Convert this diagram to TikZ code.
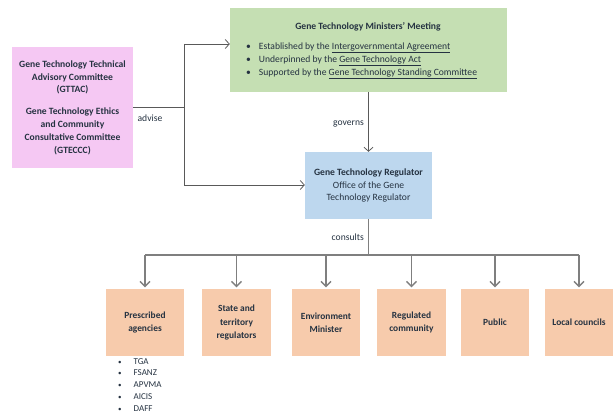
\documentclass[tikz,border=0pt]{standalone}
\usepackage{fontspec}
\setmainfont{Carlito}
\usetikzlibrary{arrows.meta}
\definecolor{txt}{HTML}{253241}
\definecolor{pinkf}{HTML}{F5C8F3}
\definecolor{greenf}{HTML}{C5DFB3}
\definecolor{bluef}{HTML}{BDD7EE}
\definecolor{orangef}{HTML}{F7CBAC}
\definecolor{lineA}{HTML}{595959}
\definecolor{lineB}{HTML}{7F7F7F}
\begin{document}
\begin{tikzpicture}[x=1pt,y=-1pt,
  every node/.style={text=txt, inner sep=0pt, font=\fontsize{9.6}{12.8}\selectfont},
  bodyfont/.style={font=\fontsize{9.6}{12.8}\selectfont},
  boldfont/.style={font=\bfseries\fontsize{9.6}{12.8}\selectfont},
  pinkbox/.style={fill=pinkf, minimum width=121pt, minimum height=121pt, align=center, boldfont},
  greenbox/.style={fill=greenf, minimum width=277pt, minimum height=84pt},
  bluebox/.style={fill=bluef, minimum width=127pt, minimum height=67pt, align=center},
  orbox/.style={fill=orangef, minimum height=67pt, align=center, font=\bfseries\fontsize{9.4}{13.5}\selectfont},
  thinarrow/.style={draw=lineA, line width=0.8pt, -{Straight Barb[length=4pt,width=9pt,line width=0.8pt]}},
  thinline/.style={draw=lineA, line width=0.8pt},
  busline/.style={draw=lineB, line width=1.6pt},
  busarrow/.style={draw=lineB, line width=1.6pt, -{Straight Barb[length=5pt,width=10pt,line width=1.4pt]}},
  lbl/.style={bodyfont}
]
\useasboundingbox (0,0) rectangle (614,414);

% upper boxes
\node[pinkbox] (tac) at (72.5,107.5) {Gene Technology Technical\\Advisory Committee\\(GTTAC)\\[9pt]Gene Technology Ethics\\and Community\\Consultative Committee\\(GTECCC)};
\node[greenbox] (gmm) at (368.5,50) {};
\node[boldfont, anchor=center] (gtitle) at (368,27) {Gene Technology Ministers’ Meeting};
\node[anchor=west, align=left, font=\fontsize{9.6}{13}\selectfont] (glist) at (246,61)
  {\textbullet\hspace{8pt}Established by the \underline{Intergovernmental Agreement}\\
   \textbullet\hspace{8pt}Underpinned by the \underline{Gene Technology Act}\\
   \textbullet\hspace{8pt}Supported by the \underline{Gene Technology Standing Committee}};
\node[bluebox] (gtr) at (368.5,185.5) {{\bfseries Gene Technology Regulator}\\Office of the Gene\\Technology Regulator};

% bottom boxes
\node[orbox, minimum width=78pt] (pa) at (145,322.5) {Prescribed\\agencies};
\node[orbox, minimum width=69pt] (st) at (236.5,322.5) {State and\\territory\\regulators};
\node[orbox, minimum width=68pt] (em) at (326,322.5) {Environment\\Minister};
\node[orbox, minimum width=69pt] (rc) at (411.5,322.5) {Regulated\\community};
\node[orbox, minimum width=68pt] (pu) at (495,322.5) {Public};
\node[orbox, minimum width=68pt] (lc) at (579,322.5) {Local councils};

\node[anchor=north west, align=left, font=\fontsize{9}{11.8}\selectfont] (palist) at (118,358)
  {{\scriptsize\textbullet}\hspace{12pt}TGA\\{\scriptsize\textbullet}\hspace{12pt}FSANZ\\{\scriptsize\textbullet}\hspace{12pt}APVMA\\{\scriptsize\textbullet}\hspace{12pt}AICIS\\{\scriptsize\textbullet}\hspace{12pt}DAFF};

% advise connectors
\coordinate (vtop) at (184,44);
\coordinate (vbot) at (184,185);
\draw[thinline] (tac.east) -- (tac.east -| vtop);
\draw[thinline] (vtop) -- (vbot);
\draw[thinarrow] (vtop) -- (gmm.west |- vtop);
\draw[thinarrow] (vbot) -- (gtr.west |- vbot);
\node[lbl] (advise) at (150,118) {advise};

% governs
\draw[thinarrow] (gmm.south -| gtr.north) -- (gtr.north);
\node[lbl, anchor=east] (governs) at (364,124) {governs};

% consults bus
\coordinate (bus) at (368,255);
\draw[busline] (gtr.south) -- (gtr.south |- bus);
\draw[busline] (pa.north |- bus) -- (lc.north |- bus);
\node[lbl, anchor=east] (consults) at (364,237) {consults};
\foreach \b in {pa,st,em,rc,pu,lc}{
  \draw[busarrow] (\b.north |- bus) -- ([yshift=1.5pt]\b.north);
}
\end{tikzpicture}
\end{document}
